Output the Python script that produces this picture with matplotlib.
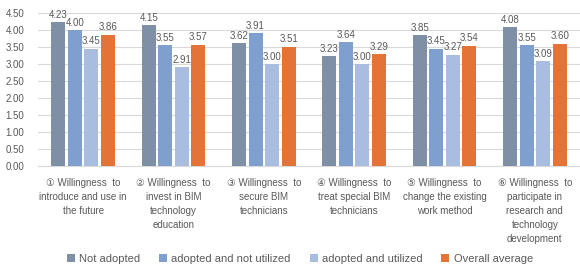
import matplotlib
matplotlib.use("Agg")
import matplotlib.pyplot as plt
import numpy as np

plt.rcParams['font.family'] = ['Liberation Sans', 'DejaVu Sans', 'Noto Sans CJK SC']

categories = [
    "① Willingness  to\nintroduce and use in\nthe future",
    "② Willingness  to\ninvest in BIM\ntechnology\neducation",
    "③ Willingness  to\nsecure BIM\ntechnicians",
    "④ Willingness  to\ntreat special BIM\ntechnicians",
    "⑤ Willingness  to\nchange the existing\nwork method",
    "⑥ Willingness  to\nparticipate in\nresearch and\ntechnology\ndevelopment",
]
series_names = ["Not adopted", "adopted and not utilized", "adopted and utilized", "Overall average"]
not_adopted = [4.23, 4.15, 3.62, 3.23, 3.85, 4.08]
adopted_not_utilized = [4.00, 3.55, 3.91, 3.64, 3.45, 3.55]
adopted_utilized = [3.45, 2.91, 3.00, 3.00, 3.27, 3.09]
overall_average = [3.86, 3.57, 3.51, 3.29, 3.54, 3.60]
yticks = [0.0, 0.5, 1.0, 1.5, 2.0, 2.5, 3.0, 3.5, 4.0, 4.5]

colors = ["#7f8fa6", "#7f9fcf", "#a9bde0", "#e37336"]
series = [not_adopted, adopted_not_utilized, adopted_utilized, overall_average]

fig = plt.figure(figsize=(5.8, 2.69), dpi=100)
ax = fig.add_axes([38/580, 1 - 166/269, 542/580, (166 - 13)/269])
ax.set_ylim(0, 4.5)
ax.set_xlim(-0.5, 5.5)

x = np.arange(len(categories))
step = 0.183
width = 0.155
label_color = "#595959"
for i, (vals, c, name) in enumerate(zip(series, colors, series_names)):
    pos = x + (i - 1.5) * step
    ax.bar(pos, vals, width=width, color=c, label=name, zorder=3)
    for p, v in zip(pos, vals):
        ax.text(p, v + 0.07, f"{v:.2f}", ha="center", va="bottom",
                fontsize=7, color=label_color, zorder=4)

ax.set_yticks(yticks)
ax.set_yticklabels([f"{t:.2f}" for t in yticks], fontsize=7, color=label_color)
ax.yaxis.grid(True, color="#d9d9d9", linewidth=0.8, zorder=0)
ax.set_axisbelow(True)
ax.tick_params(axis='y', length=0, pad=10)
ax.tick_params(axis='x', length=0, pad=9)
ax.set_xticks(x)
ax.set_xticklabels(categories, fontsize=7, color=label_color, linespacing=1.5)
for s in ["top", "right", "left"]:
    ax.spines[s].set_visible(False)
ax.spines["bottom"].set_color("#d9d9d9")

fig.legend(loc="center", bbox_to_anchor=(300/580, 1 - 259/269), ncol=4,
           frameon=False, fontsize=8, handlelength=0.7, handleheight=0.7,
           handletextpad=0.4, columnspacing=1.7, labelcolor=label_color)

fig.savefig("out.png", dpi=100)
